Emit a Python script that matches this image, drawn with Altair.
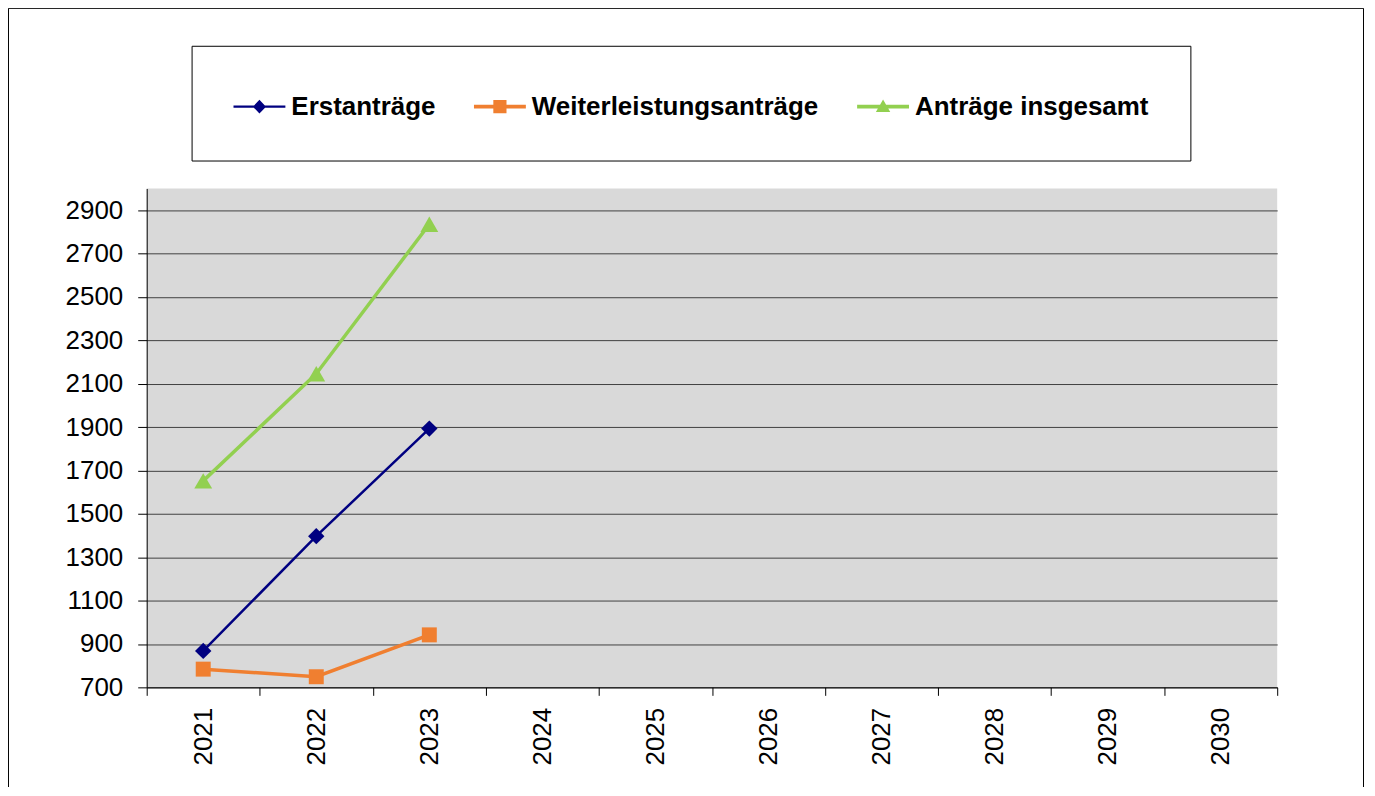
import altair as alt
import pandas as pd

years_all = ["2021", "2022", "2023", "2024", "2025", "2026", "2027", "2028", "2029", "2030"]
years = ["2021", "2022", "2023"]
series_names = ["Erstanträge", "Weiterleistungsanträge", "Anträge insgesamt"]
erst = [868, 1397, 1893]
weiter = [784, 749, 942]
gesamt = [1652, 2146, 2835]
y_ticks = [700, 900, 1100, 1300, 1500, 1700, 1900, 2100, 2300, 2500, 2700, 2900]

colors = ["#000080", "#F07F30", "#92D050"]
marker_shapes = ["diamond", "square", "triangle-up"]
marker_sizes = [270, 225, 320]
line_widths = [2.5, 3.5, 3.5]
legend_paths = [
    "M-1.3,-0.06H1.3V0.06H-1.3Z M0,-0.34L0.33,0L0,0.34L-0.33,0Z",
    "M-1.3,-0.09H1.3V0.09H-1.3Z M-0.33,-0.33H0.33V0.33H-0.33Z",
    "M-1.3,-0.09H1.3V0.09H-1.3Z M0,-0.36L0.36,0.27H-0.36Z",
]

rows = []
for name, vals in zip(series_names, [erst, weiter, gesamt]):
    for yr, v in zip(years, vals):
        rows.append({"Jahr": yr, "Wert": v, "Reihe": name})
df = pd.DataFrame(rows)

x_enc = alt.X(
    "Jahr:O",
    bandPosition=0.5,
    scale=alt.Scale(type="band", domain=years_all, paddingInner=0, paddingOuter=0),
    axis=alt.Axis(title=None, labelAngle=-90, tickBand="extent", grid=False,
                  labelPadding=12, tickSize=8),
)
y_enc = alt.Y(
    "Wert:Q",
    scale=alt.Scale(domain=[700, 3000], nice=False, zero=False),
    axis=alt.Axis(title=None, values=y_ticks, format="d", grid=True, labelPadding=15, tickSize=9),
)

border = alt.Chart(alt.Data(values=[{"a": 1}])).mark_rect(
    fill="transparent", stroke="black", strokeWidth=1
).encode(
    x=alt.value(-138.5), x2=alt.value(1219.5), y=alt.value(-180.5), y2=alt.value(640)
)

layers = [border]
for i, name in enumerate(series_names):
    base = alt.Chart(df).transform_filter(alt.datum.Reihe == name)
    layers.append(base.mark_line(color=colors[i], strokeWidth=line_widths[i]).encode(x=x_enc, y=y_enc))
for i, name in enumerate(series_names):
    base = alt.Chart(df).transform_filter(alt.datum.Reihe == name)
    layers.append(base.mark_point(shape=marker_shapes[i], filled=True, size=marker_sizes[i],
                                  color=colors[i], opacity=1).encode(x=x_enc, y=y_enc))

legend_layer = alt.Chart(df).mark_point(filled=True).encode(
    x=x_enc,
    y=y_enc,
    opacity=alt.value(0),
    color=alt.Color("Reihe:N", scale=alt.Scale(domain=series_names, range=colors), title=None),
    shape=alt.Shape("Reihe:N", scale=alt.Scale(domain=series_names, range=legend_paths), title=None),
)
layers.append(legend_layer)

chart = alt.layer(*layers).properties(
    width=1133,
    height=500,
    autosize=alt.AutoSizeParams(type="none"),
    padding={"left": 139, "top": 180, "right": 90, "bottom": 99},
).configure_view(
    fill="#D9D9D9", stroke=None
).configure_axis(
    labelFont="Liberation Sans",
    labelFontSize=26,
    labelColor="black",
    tickColor="black",
    domainColor="black",
    gridColor="#404040",
    gridWidth=1,
    domainWidth=1,
    tickWidth=1,
).configure_legend(
    orient="none",
    legendX=45,
    legendY=-143,
    direction="horizontal",
    strokeColor="black",
    fillColor="white",
    padding=41,
    labelFont="Liberation Sans",
    labelFontWeight="bold",
    labelFontSize=26,
    labelColor="black",
    labelLimit=0,
    symbolSize=1600,
    symbolOpacity=1,
    symbolStrokeWidth=0,
    symbolOffset=7,
    labelOffset=12,
    columnPadding=37,
)

chart.save("out.html", embed_options={"renderer": "svg", "actions": False})
